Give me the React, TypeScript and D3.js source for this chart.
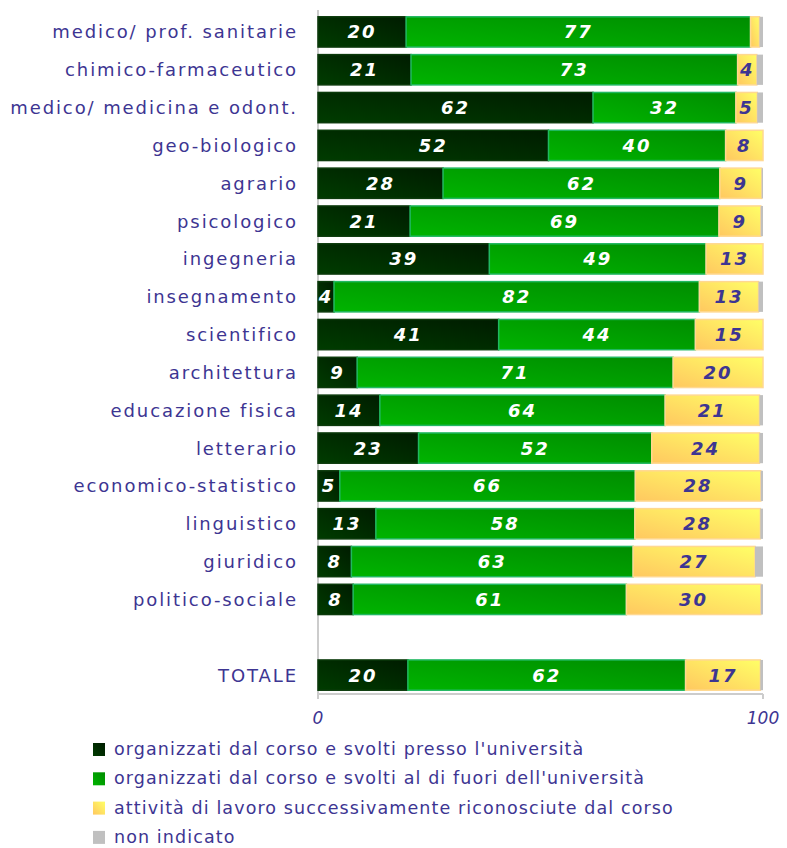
import * as d3 from "d3";
import { useRef, useEffect } from "react";

const categories = [
  "medico/ prof. sanitarie",
  "chimico-farmaceutico",
  "medico/ medicina e odont.",
  "geo-biologico",
  "agrario",
  "psicologico",
  "ingegneria",
  "insegnamento",
  "scientifico",
  "architettura",
  "educazione fisica",
  "letterario",
  "economico-statistico",
  "linguistico",
  "giuridico",
  "politico-sociale",
  "",
  "TOTALE",
];

// shares in % (labels are the rounded values)
const presso = [19.8, 20.9, 61.8, 51.8, 28.1, 20.7, 38.5, 3.6, 40.6, 8.8, 13.9, 22.6, 4.9, 13.0, 7.5, 7.9, null, 20.2];
const fuori = [77.4, 73.4, 32.1, 39.8, 62.2, 69.4, 48.7, 82.1, 44.2, 71.0, 64.1, 52.4, 66.4, 58.2, 63.3, 61.4, null, 62.4];
const lavoro = [2.0, 4.3, 4.8, 8.4, 9.4, 9.4, 12.8, 13.3, 15.2, 20.2, 21.2, 24.2, 28.2, 28.2, 27.4, 30.2, null, 16.8];
const nonInd = [0.8, 1.4, 1.3, 0, 0.3, 0.5, 0, 1.0, 0, 0, 0.8, 0.8, 0.5, 0.6, 1.8, 0.5, null, 0.6];

const seriesNames = [
  "organizzati dal corso e svolti presso l'università",
  "organizzati dal corso e svolti al di fuori dell'università",
  "attività di lavoro successivamente riconosciute dal corso",
  "non indicato",
];

const xTicks = [0, 100];

const TEXT = "#3d3592";
const FONT = "'DejaVu Sans', Verdana, sans-serif";

export default function App() {
  const ref = useRef<SVGSVGElement>(null);

  useEffect(() => {
    if (!ref.current) return;
    const svg = d3.select(ref.current);
    svg.selectAll("*").remove();

    const defs = svg.append("defs");
    const grad = (id: string, stops: [string, string]) => {
      const g = defs
        .append("linearGradient")
        .attr("id", id)
        .attr("x1", "0")
        .attr("y1", "1")
        .attr("x2", "1")
        .attr("y2", "0");
      g.append("stop").attr("offset", "0%").attr("stop-color", stops[0]);
      g.append("stop").attr("offset", "100%").attr("stop-color", stops[1]);
    };
    grad("gDark", ["#003c00", "#001c00"]);
    grad("gGreen", ["#00b400", "#008c00"]);
    grad("gYellow", ["#ffc860", "#ffff66"]);

    const fills = ["url(#gDark)", "url(#gGreen)", "url(#gYellow)", "#c0c0c0"];
    const strokes = ["#0b3a0b", "#20b860", "#ffd890", "none"];
    const labelColors = ["#ffffff", "#ffffff", TEXT];

    const x = d3.scaleLinear().domain([0, 100]).range([318, 763]);
    const y = d3
      .scaleBand<string>()
      .domain(categories.map((c, i) => c + "#" + i))
      .range([13, 694])
      .paddingInner(0.2)
      .paddingOuter(0.1);

    const rows = categories.map((c, i) => ({
      key: c + "#" + i,
      name: c,
      vals: [presso[i], fuori[i], lavoro[i], nonInd[i]],
    }));

    // axis lines
    svg
      .append("line")
      .attr("x1", x(0))
      .attr("x2", x(0))
      .attr("y1", 10)
      .attr("y2", 694)
      .attr("stroke", "#cccccc")
      .attr("stroke-width", 2);
    svg
      .append("line")
      .attr("x1", x(0))
      .attr("x2", x(100))
      .attr("y1", 694)
      .attr("y2", 694)
      .attr("stroke", "#cccccc")
      .attr("stroke-width", 2);
    xTicks.forEach((t) => {
      svg
        .append("line")
        .attr("x1", x(t))
        .attr("x2", x(t))
        .attr("y1", 694)
        .attr("y2", 699)
        .attr("stroke", "#cccccc")
        .attr("stroke-width", 2);
      svg
        .append("text")
        .attr("x", x(t))
        .attr("y", 724)
        .attr("text-anchor", "middle")
        .attr("font-family", FONT)
        .attr("font-style", "italic")
        .attr("font-size", 17)
        .attr("fill", TEXT)
        .text(t);
    });

    rows.forEach((r) => {
      const y0 = y(r.key)!;
      const bh = y.bandwidth();
      if (r.name) {
        svg
          .append("text")
          .attr("x", 298)
          .attr("y", y0 + bh / 2)
          .attr("dy", "0.36em")
          .attr("text-anchor", "end")
          .attr("font-family", FONT)
          .attr("font-size", 18)
          .attr("letter-spacing", 1.9)
          .attr("fill", TEXT)
          .text(r.name);
      }
      if (r.vals[0] == null) return;
      let acc = 0;
      r.vals.forEach((v, j) => {
        const val = v as number;
        if (!val) return;
        const x0 = x(acc);
        const x1 = x(acc + val);
        acc += val;
        svg
          .append("rect")
          .attr("x", x0)
          .attr("y", y0)
          .attr("width", x1 - x0)
          .attr("height", bh)
          .attr("fill", fills[j])
          .attr("stroke", strokes[j])
          .attr("stroke-width", 1.5);
        if (j < 3 && val >= 3.5) {
          svg
            .append("text")
            .attr("x", (x0 + x1) / 2)
            .attr("y", y0 + bh / 2)
            .attr("dy", "0.36em")
            .attr("text-anchor", "middle")
            .attr("font-family", FONT)
            .attr("font-weight", "bold")
            .attr("font-style", "italic")
            .attr("font-size", 18)
            .attr("letter-spacing", 2)
            .attr("fill", labelColors[j])
            .text(Math.round(val));
        }
      });
    });

    // legend
    const legendFills = ["url(#gDark)", "url(#gGreen)", "url(#gYellow)", "#c0c0c0"];
    seriesNames.forEach((s, i) => {
      const ly = 749 + i * 29.3;
      svg
        .append("rect")
        .attr("x", 93)
        .attr("y", ly - 6)
        .attr("width", 12)
        .attr("height", 13)
        .attr("fill", legendFills[i]);
      svg
        .append("text")
        .attr("x", 114)
        .attr("y", ly)
        .attr("dy", "0.35em")
        .attr("font-family", FONT)
        .attr("font-size", 17.5)
        .attr("letter-spacing", 1.1)
        .attr("fill", TEXT)
        .text(s);
    });
  }, []);

  return (
    <svg
      ref={ref}
      width={787}
      height={848}
      style={{ position: "absolute", left: 0, top: 0, background: "#fff" }}
    />
  );
}
